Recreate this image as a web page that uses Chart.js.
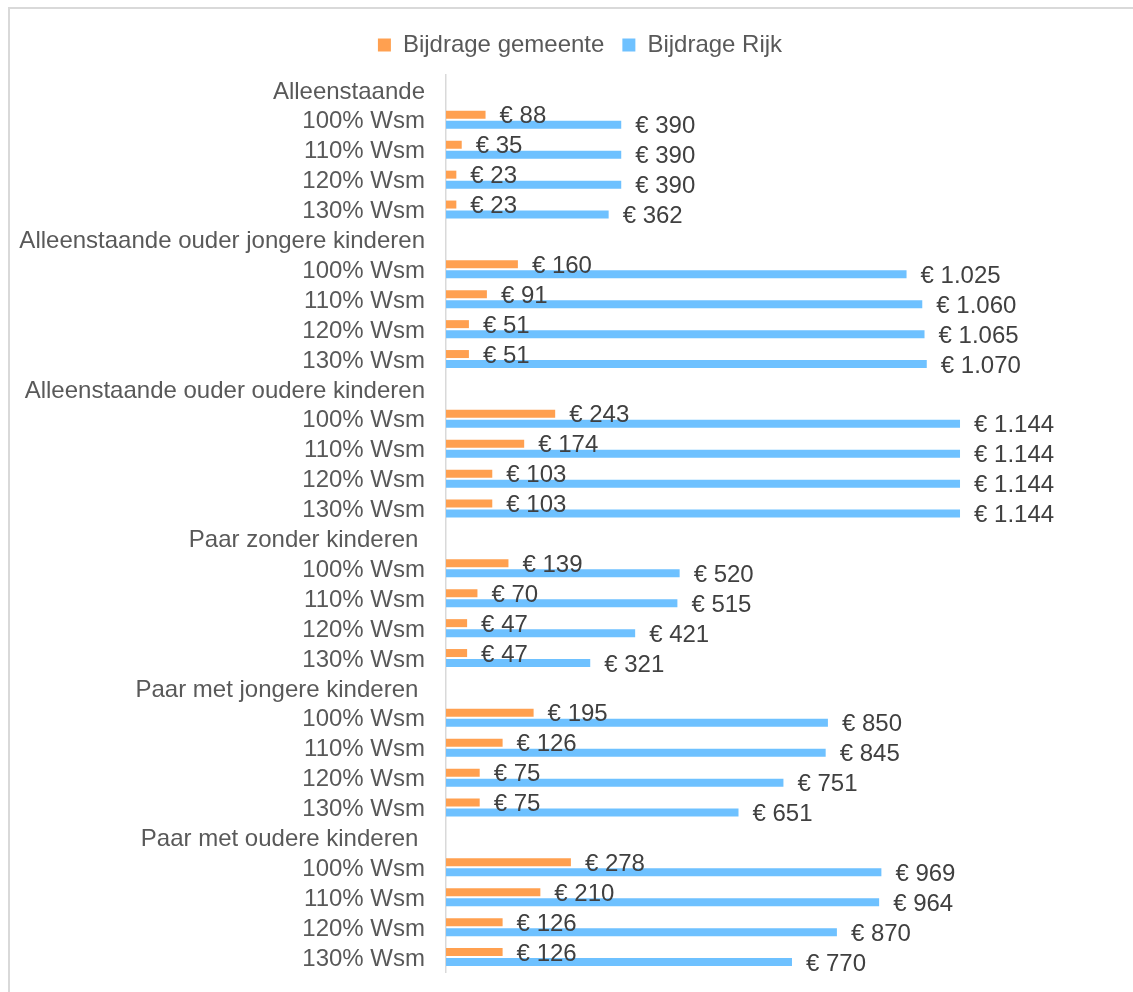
<!DOCTYPE html>
<html>
<head>
<meta charset="utf-8">
<script src="https://cdn.jsdelivr.net/npm/chart.js@4"></script>
<style>
  html, body { margin: 0; padding: 0; background: #fff; }
  #wrap { position: relative; width: 1133px; height: 992px; overflow: hidden; }
  #frame { position: absolute; left: 8px; top: 7px; width: 1200px; height: 1100px;
    border-left: 2px solid #d9d9d9; border-top: 2px solid #d9d9d9; }
  canvas { position: absolute; left: 0; top: 0; }
</style>
</head>
<body>
<div id="wrap">
  <div id="frame"></div>
  <canvas id="budgetChart" width="1133" height="992"></canvas>
</div>
<script>
const categories = [
  'Alleenstaande', '100% Wsm', '110% Wsm', '120% Wsm', '130% Wsm',
  'Alleenstaande ouder jongere kinderen', '100% Wsm', '110% Wsm', '120% Wsm', '130% Wsm',
  'Alleenstaande ouder oudere kinderen', '100% Wsm', '110% Wsm', '120% Wsm', '130% Wsm',
  'Paar zonder kinderen ', '100% Wsm', '110% Wsm', '120% Wsm', '130% Wsm',
  'Paar met jongere kinderen ', '100% Wsm', '110% Wsm', '120% Wsm', '130% Wsm',
  'Paar met oudere kinderen ', '100% Wsm', '110% Wsm', '120% Wsm', '130% Wsm'
];

const bijdrageGemeente = [
  null, 88, 35, 23, 23,
  null, 160, 91, 51, 51,
  null, 243, 174, 103, 103,
  null, 139, 70, 47, 47,
  null, 195, 126, 75, 75,
  null, 278, 210, 126, 126
];

const bijdrageRijk = [
  null, 390, 390, 390, 362,
  null, 1025, 1060, 1065, 1070,
  null, 1144, 1144, 1144, 1144,
  null, 520, 515, 421, 321,
  null, 850, 845, 751, 651,
  null, 969, 964, 870, 770
];

const FONT = "'Liberation Sans', Arial, sans-serif";

function euro(v) {
  return '€ ' + String(v).replace(/\B(?=(\d{3})+(?!\d))/g, '.');
}

// draws "€ 123" just right of every bar end
const barLabels = {
  id: 'barLabels',
  afterDatasetsDraw(chart) {
    const ctx = chart.ctx;
    ctx.save();
    ctx.font = '24px ' + FONT;
    ctx.fillStyle = '#404040';
    ctx.textBaseline = 'middle';
    ctx.textAlign = 'left';
    chart.data.datasets.forEach((ds, di) => {
      chart.getDatasetMeta(di).data.forEach((bar, i) => {
        const v = ds.data[i];
        if (v == null) return;
        ctx.fillText(euro(v), bar.x + 14, bar.y + 2);
      });
    });
    ctx.restore();
  }
};

// legend sits a bit right of the canvas centre in the original
const legendShift = {
  id: 'legendShift',
  afterLayout(chart) {
    chart.legend.left += 27;
  }
};

const ctx = document.getElementById('budgetChart').getContext('2d');
const budgetChart = new Chart(ctx, {
  type: 'bar',
  data: {
    labels: categories,
    datasets: [
      {
        label: 'Bijdrage gemeente',
        data: bijdrageGemeente,
        backgroundColor: '#FFA050',
        categoryPercentage: 0.669,
        barPercentage: 0.8
      },
      {
        label: 'Bijdrage Rijk',
        data: bijdrageRijk,
        backgroundColor: '#6EC1FF',
        categoryPercentage: 0.669,
        barPercentage: 0.8
      }
    ]
  },
  options: {
    indexAxis: 'y',
    responsive: false,
    animation: false,
    layout: { padding: { left: 0, right: 0, top: 15, bottom: 20 } },
    plugins: {
      legend: {
        position: 'top',
        labels: {
          boxWidth: 13,
          boxHeight: 13,
          padding: 18,
          color: '#595959',
          font: { size: 24, family: FONT }
        }
      },
      tooltip: { enabled: false }
    },
    scales: {
      x: {
        position: 'top',
        min: 0,
        max: 1529,
        ticks: { display: false },
        grid: { display: false, drawTicks: false },
        border: { display: false },
        afterFit: s => { s.height = 8; s.paddingLeft = 0; s.paddingRight = 0; }
      },
      y: {
        grid: { display: false, drawTicks: false },
        border: { display: true, color: '#d9d9d9', width: 1.5 },
        ticks: {
          autoSkip: false,
          padding: 21,
          labelOffset: 2,
          color: '#595959',
          font: { size: 24, family: FONT }
        },
        afterFit: s => { s.width = 446; s.paddingTop = 0; s.paddingBottom = 0; }
      }
    }
  },
  plugins: [barLabels, legendShift]
});
</script>
</body>
</html>
